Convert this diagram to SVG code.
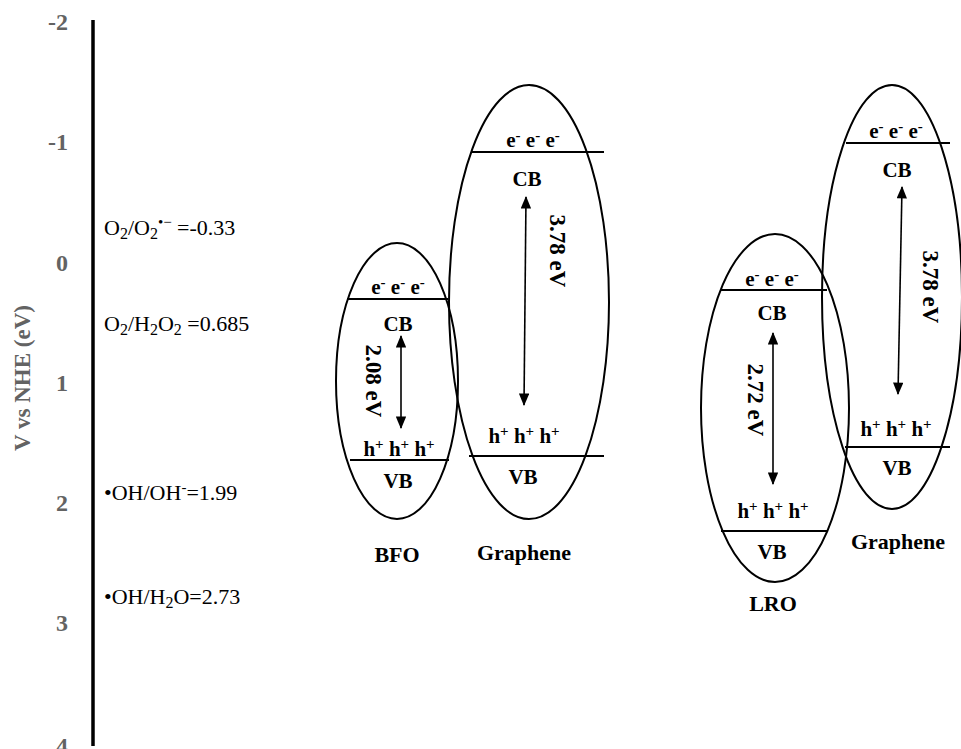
<svg xmlns="http://www.w3.org/2000/svg" width="961" height="749" viewBox="0 0 961 749">
<style>
text{font-family:'Liberation Serif','Times New Roman','DejaVu Serif',serif}
.tick{font-weight:bold;font-size:24px;fill:#636363;text-anchor:end}
.title{font-weight:bold;font-size:23px;fill:#636363;text-anchor:middle}
.pot{font-size:22px;fill:#000}
.lb{font-weight:bold;font-size:21px;fill:#000;text-anchor:middle}
.nm{font-weight:bold;font-size:22px;fill:#000;text-anchor:middle}
.gap{font-weight:bold;font-size:23px;fill:#000;text-anchor:middle}
.ell{fill:none;stroke:#000;stroke-width:2}
.band{stroke:#000;stroke-width:2}
.arr{stroke:#000;stroke-width:1.6;marker-start:url(#ah);marker-end:url(#ah)}
.sup{font-size:15px}
.sub{font-size:16px}
</style>
<defs>
<marker id="ah" viewBox="0 0 12 10" refX="11" refY="5" markerWidth="8" markerHeight="6.5" orient="auto-start-reverse" markerUnits="strokeWidth">
<path d="M0,0 L12,5 L0,10 z" fill="#000"/>
</marker>
</defs>
<g id="axis">
<line x1="93" y1="20" x2="93" y2="746" stroke="#000" stroke-width="3.5"/>
<text class="tick" x="68" y="30">-2</text>
<text class="tick" x="68" y="150">-1</text>
<text class="tick" x="68" y="271">0</text>
<text class="tick" x="68" y="391">1</text>
<text class="tick" x="68" y="511">2</text>
<text class="tick" x="68" y="631">3</text>
<text class="tick" x="68" y="754">4</text>
<text class="title" transform="translate(30,378) rotate(-90)">V vs NHE (eV)</text>
</g>
<g id="potentials">
<text class="pot" x="104" y="235">O<tspan class="sub" dy="4">2</tspan><tspan dy="-4">/O</tspan><tspan class="sub" dy="4">2</tspan><tspan class="sup" dy="-12">•−</tspan><tspan dy="8"> =-0.33</tspan></text>
<text class="pot" x="104" y="331">O<tspan class="sub" dy="4">2</tspan><tspan dy="-4">/H</tspan><tspan class="sub" dy="4">2</tspan><tspan dy="-4">O</tspan><tspan class="sub" dy="4">2</tspan><tspan dy="-4"> =0.685</tspan></text>
<text class="pot" x="104" y="500">•OH/OH<tspan class="sup" dy="-8">-</tspan><tspan dy="8">=1.99</tspan></text>
<text class="pot" x="104" y="604">•OH/H<tspan class="sub" dy="4">2</tspan><tspan dy="-4">O=2.73</tspan></text>
</g>
<g id="bfo">
<ellipse class="ell" cx="397" cy="381" rx="61" ry="138"/>
<line class="band" x1="347" y1="299" x2="448" y2="299"/>
<line class="band" x1="350" y1="460" x2="449" y2="460"/>
<text class="lb" x="398" y="294">e<tspan class="sup" dy="-7">-</tspan><tspan dy="7"> e</tspan><tspan class="sup" dy="-7">-</tspan><tspan dy="7"> e</tspan><tspan class="sup" dy="-7">-</tspan></text>
<text class="lb" x="398" y="331">CB</text>
<line class="arr" x1="401" y1="336" x2="401" y2="428"/>
<text class="gap" transform="translate(373,381) rotate(90)" dy="7">2.08 eV</text>
<text class="lb" x="399" y="456">h<tspan class="sup" dy="-7">+</tspan><tspan dy="7"> h</tspan><tspan class="sup" dy="-7">+</tspan><tspan dy="7"> h</tspan><tspan class="sup" dy="-7">+</tspan></text>
<text class="lb" x="398" y="488">VB</text>
<text class="nm" x="397" y="562">BFO</text>
</g>
<g id="graphene1">
<ellipse class="ell" cx="529" cy="302" rx="80" ry="217"/>
<line class="band" x1="472" y1="152" x2="604" y2="152"/>
<line class="band" x1="469" y1="456" x2="604" y2="456"/>
<text class="lb" x="533" y="147">e<tspan class="sup" dy="-7">-</tspan><tspan dy="7"> e</tspan><tspan class="sup" dy="-7">-</tspan><tspan dy="7"> e</tspan><tspan class="sup" dy="-7">-</tspan></text>
<text class="lb" x="527" y="186">CB</text>
<line class="arr" x1="526" y1="197" x2="524" y2="405"/>
<text class="gap" transform="translate(557,251) rotate(90)" dy="7">3.78 eV</text>
<text class="lb" x="524" y="443">h<tspan class="sup" dy="-7">+</tspan><tspan dy="7"> h</tspan><tspan class="sup" dy="-7">+</tspan><tspan dy="7"> h</tspan><tspan class="sup" dy="-7">+</tspan></text>
<text class="lb" x="523" y="484">VB</text>
<text class="nm" x="524" y="560">Graphene</text>
</g>
<g id="lro">
<ellipse class="ell" cx="775" cy="408" rx="74" ry="174"/>
<line class="band" x1="721" y1="290" x2="827" y2="290"/>
<line class="band" x1="721" y1="531" x2="827" y2="531"/>
<text class="lb" x="772" y="286">e<tspan class="sup" dy="-7">-</tspan><tspan dy="7"> e</tspan><tspan class="sup" dy="-7">-</tspan><tspan dy="7"> e</tspan><tspan class="sup" dy="-7">-</tspan></text>
<text class="lb" x="772" y="320">CB</text>
<line class="arr" x1="773" y1="333" x2="773" y2="484"/>
<text class="gap" transform="translate(755,400) rotate(90)" dy="7">2.72 eV</text>
<text class="lb" x="773" y="518">h<tspan class="sup" dy="-7">+</tspan><tspan dy="7"> h</tspan><tspan class="sup" dy="-7">+</tspan><tspan dy="7"> h</tspan><tspan class="sup" dy="-7">+</tspan></text>
<text class="lb" x="772" y="559">VB</text>
<text class="nm" x="773" y="611">LRO</text>
</g>
<g id="graphene2">
<ellipse class="ell" cx="892" cy="297" rx="70" ry="212"/>
<line class="band" x1="846" y1="143" x2="950" y2="143"/>
<line class="band" x1="845" y1="447" x2="950" y2="447"/>
<text class="lb" x="896" y="138">e<tspan class="sup" dy="-7">-</tspan><tspan dy="7"> e</tspan><tspan class="sup" dy="-7">-</tspan><tspan dy="7"> e</tspan><tspan class="sup" dy="-7">-</tspan></text>
<text class="lb" x="897" y="177">CB</text>
<line class="arr" x1="902" y1="187" x2="898" y2="394"/>
<text class="gap" transform="translate(930,287) rotate(90)" dy="7">3.78 eV</text>
<text class="lb" x="896" y="436">h<tspan class="sup" dy="-7">+</tspan><tspan dy="7"> h</tspan><tspan class="sup" dy="-7">+</tspan><tspan dy="7"> h</tspan><tspan class="sup" dy="-7">+</tspan></text>
<text class="lb" x="897" y="475">VB</text>
<text class="nm" x="898" y="549">Graphene</text>
</g>
</svg>
